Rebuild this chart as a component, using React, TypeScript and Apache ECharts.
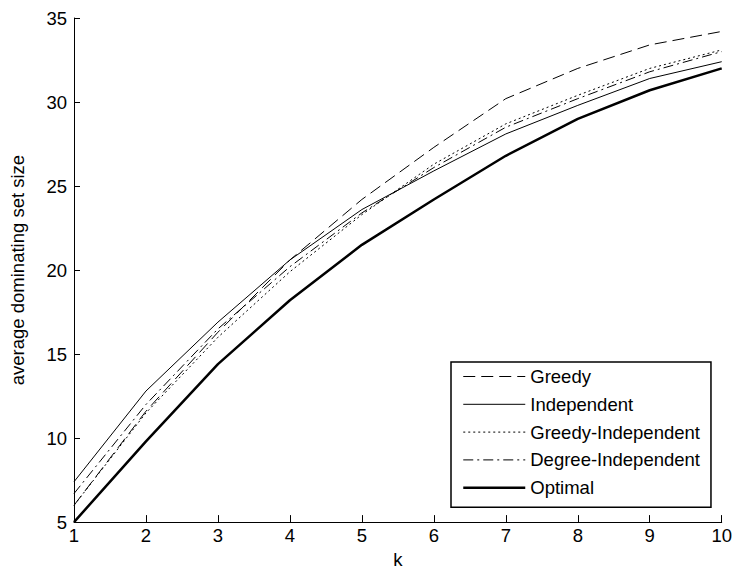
import React, { useEffect, useRef } from "react";
import * as echarts from "echarts";

const kValues = [1, 2, 3, 4, 5, 6, 7, 8, 9, 10];
const greedy = [6.0, 11.6, 16.3, 20.6, 24.2, 27.3, 30.2, 32.0, 33.4, 34.2];
const independent = [7.4, 12.8, 16.9, 20.6, 23.6, 25.9, 28.1, 29.8, 31.4, 32.4];
const greedyIndependent = [6.0, 11.5, 16.0, 19.9, 23.3, 26.3, 28.7, 30.4, 32.0, 33.1];
const degreeIndependent = [6.7, 12.0, 16.5, 20.2, 23.4, 26.1, 28.5, 30.2, 31.8, 33.0];
const optimal = [5.0, 9.8, 14.4, 18.2, 21.5, 24.2, 26.8, 29.0, 30.7, 32.0];

const FONT = "'Liberation Sans', Arial, sans-serif";

const seriesDefs = [
  { name: "Greedy", data: greedy, type: [12, 6] as any, width: 1 },
  { name: "Independent", data: independent, type: "solid" as any, width: 1 },
  { name: "Greedy-Independent", data: greedyIndependent, type: [2, 3] as any, width: 1 },
  { name: "Degree-Independent", data: degreeIndependent, type: [10, 4, 2, 4] as any, width: 1 },
  { name: "Optimal", data: optimal, type: "solid" as any, width: 2.5 },
];

export default function App() {
  const ref = useRef<HTMLDivElement>(null);
  useEffect(() => {
    if (!ref.current) return;
    const chart = echarts.init(ref.current, undefined, { renderer: "svg" });
    const pair = (arr: number[]) => kValues.map((k, i) => [k, arr[i]]);
    chart.setOption({
      animation: false,
      backgroundColor: "#fff",
      textStyle: { fontFamily: FONT },
      grid: { left: 74, right: 12, top: 18, bottom: 45, containLabel: false },
      xAxis: {
        type: "value",
        min: 1,
        max: 10,
        interval: 1,
        name: "k",
        nameLocation: "middle",
        nameGap: 26,
        nameTextStyle: { color: "#000", fontSize: 18.5, fontFamily: FONT },
        axisLine: { lineStyle: { color: "#000", width: 1 } },
        axisTick: { inside: true, length: 7, lineStyle: { color: "#000" } },
        axisLabel: { color: "#000", fontSize: 18.5, margin: 4, fontFamily: FONT },
        splitLine: { show: false },
      },
      yAxis: {
        type: "value",
        min: 5,
        max: 35,
        interval: 5,
        name: "average dominating set size",
        nameLocation: "middle",
        nameGap: 47,
        nameTextStyle: { color: "#000", fontSize: 18.5, fontFamily: FONT },
        axisLine: { show: true, lineStyle: { color: "#000", width: 1 } },
        axisTick: { show: true, inside: true, length: 6, lineStyle: { color: "#000" } },
        axisLabel: { color: "#000", fontSize: 18.5, margin: 7, fontFamily: FONT },
        splitLine: { show: false },
      },
      legend: {
        orient: "vertical",
        left: 451,
        top: 362,
        padding: [5, 11, 10, 11],
        itemWidth: 62,
        itemHeight: 14,
        itemGap: 8.8,
        backgroundColor: "#fff",
        borderColor: "#000",
        borderWidth: 1.5,
        itemStyle: { color: "rgba(0,0,0,0)", opacity: 0, borderWidth: 0 },
        textStyle: { color: "#000", fontSize: 18.5, fontFamily: FONT },
        data: seriesDefs.map((s) => ({
          name: s.name,
          lineStyle: { color: "#000", width: s.width, type: s.type },
        })),
      },
      series: seriesDefs.map((s) => ({
        name: s.name,
        type: "line",
        data: pair(s.data),
        symbol: "none",
        showSymbol: false,
        lineStyle: { color: "#000", width: s.width, type: s.type },
        itemStyle: { color: "#000" },
      })),
    });
    return () => chart.dispose();
  }, []);
  return (
    <div
      ref={ref}
      style={{ position: "fixed", left: 0, top: 0, width: 735, height: 574 }}
    />
  );
}
